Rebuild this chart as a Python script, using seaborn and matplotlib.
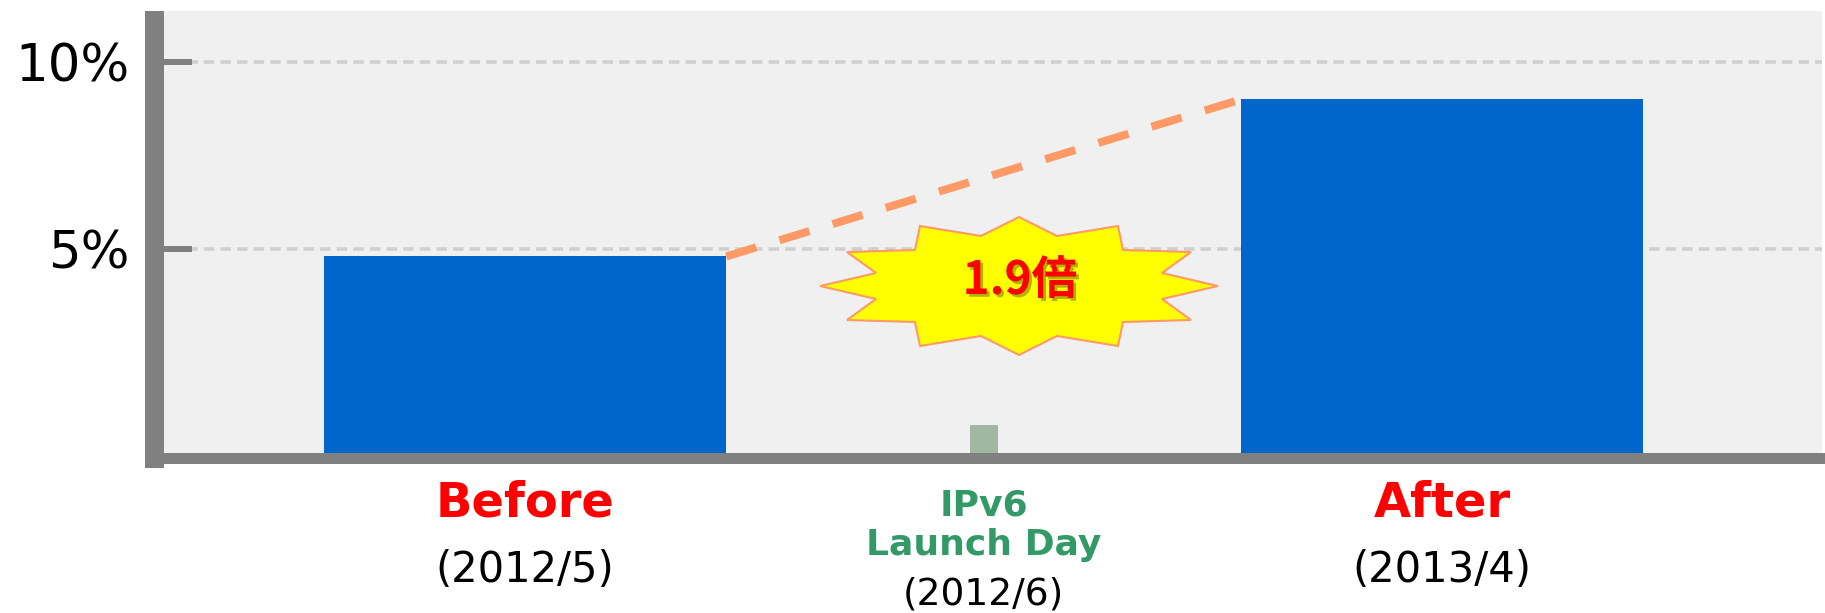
import numpy as np
import pandas as pd
import matplotlib.pyplot as plt
import matplotlib.patheffects as pe
from matplotlib.patches import Polygon
import seaborn as sns

# values (share in %)
periods = ["Before", "IPv6\nLaunch Day", "After"]
dates = ["(2012/5)", "(2012/6)", "(2013/4)"]
share = [4.8, 0.3, 9.0]
ratio_text = "1.9倍"
yticks = [5, 10]
ytick_labels = ["5%", "10%"]

df = pd.DataFrame({"period": periods, "share": share})

sns.set_style("white")
plt.rcParams['font.family'] = ['DejaVu Sans', 'Noto Sans CJK JP']

W, H = 1825, 613
fig = plt.figure(figsize=(W / 100, H / 100), dpi=100)
ax_bottom, ax_top = 457.5, 11
ax = fig.add_axes([154 / W, (H - ax_bottom) / H, (1822 - 154) / W, (ax_bottom - ax_top) / H])
ax.set_facecolor('#f0f0f0')

blue = '#0066cc'
palette = {periods[0]: blue, periods[1]: '#a0b8a2', periods[2]: blue}
bar_w = 0.877
sns.barplot(data=df, x="period", y="share", hue="period", palette=palette, order=periods,
            hue_order=periods, width=bar_w, linewidth=0, saturation=1, legend=False, ax=ax)

# the launch-day marker is a thin bar
for p in ax.patches:
    cx = p.get_x() + p.get_width() / 2
    if abs(cx - 1) < 0.1:
        p.set_width(0.061)
        p.set_x(cx - 0.061 / 2)

# every bar sits on the axis floor
ymin, ymax = -0.575, 11.364
for p in ax.patches:
    top = p.get_y() + p.get_height()
    p.set_y(ymin)
    p.set_height(top - ymin)

ax.set_xlim(-0.8096, 2.8284)
ax.set_ylim(ymin, ymax)

# dashed growth line between bar tops
ax.plot([0 + bar_w / 2, 2 - bar_w / 2], [share[0], share[2]], color='#ff9966', lw=5.8,
        linestyle=(0, (3.9, 3.0)), dash_capstyle='butt', zorder=3)

# axes styling
ax.set_axisbelow(True)
ax.yaxis.grid(True, color='#d0d0d0', linewidth=2.6, linestyle=(0, (2.9, 1.7)))
ax.xaxis.grid(False)
for s in ['top', 'right']:
    ax.spines[s].set_visible(False)
ax.spines['left'].set_color('#808080')
ax.spines['left'].set_linewidth(13.7)
ax.spines['left'].set_bounds(ymin, 11.11)
ax.spines['bottom'].set_color('#808080')
ax.spines['bottom'].set_linewidth(7.9)
ax.set_yticks(yticks)
ax.set_yticklabels(ytick_labels)
ax.tick_params(axis='y', direction='in', length=27.7, width=4.3, color='#808080',
               pad=17.6, labelsize=37, labelcolor='black', left=True)
ax.set_xticks([])
ax.set_xlabel('')
ax.set_ylabel('')

# category labels under the axis
def yfrac(py):
    return (ax_bottom - py) / (ax_bottom - ax_top)

tr = ax.get_xaxis_transform()
ax.text(0, yfrac(503), periods[0], transform=tr, ha='center', va='center',
        color='#ff0000', fontsize=34.6, fontweight='bold', clip_on=False)
ax.text(0, yfrac(570), dates[0], transform=tr, ha='center', va='center',
        color='black', fontsize=30, clip_on=False)
ax.text(1, yfrac(525), periods[1], transform=tr, ha='center', va='center',
        color='#339966', fontsize=26, fontweight='bold', linespacing=1.2, clip_on=False)
ax.text(1, yfrac(594), dates[1], transform=tr, ha='center', va='center',
        color='black', fontsize=27, clip_on=False)
ax.text(2, yfrac(503), periods[2], transform=tr, ha='center', va='center',
        color='#ff0000', fontsize=34.6, fontweight='bold', clip_on=False)
ax.text(2, yfrac(570), dates[2], transform=tr, ha='center', va='center',
        color='black', fontsize=30, clip_on=False)

# starburst callout (pixel offsets from its centre)
quarter = [(0, 69), (38, 50), (99, 60), (104, 36), (172, 34), (143, 13), (199, 0)]
right = quarter + [(x, -y) for x, y in reversed(quarter[:-1])]
left = [(-x, y) for x, y in reversed(right[1:-1])]
star = right + left
cx, cy = 1019, 286
verts = [((cx + dx) / W, (H - cy + dy) / H) for dx, dy in star]
fig.add_artist(Polygon(verts, closed=True, facecolor='#ffff00', edgecolor='#ff9966',
                       linewidth=1.5, transform=fig.transFigure, zorder=1))
fig.text(1020 / W, (H - 281) / H, ratio_text, ha='center', va='center', fontsize=33,
         fontweight='bold', color='#ff0000', family=['Noto Sans CJK JP', 'DejaVu Sans'],
         zorder=2,
         path_effects=[pe.withSimplePatchShadow(offset=(2, -2), shadow_rgbFace='#666600', alpha=0.5)])

plt.savefig('out.png', dpi=100)
